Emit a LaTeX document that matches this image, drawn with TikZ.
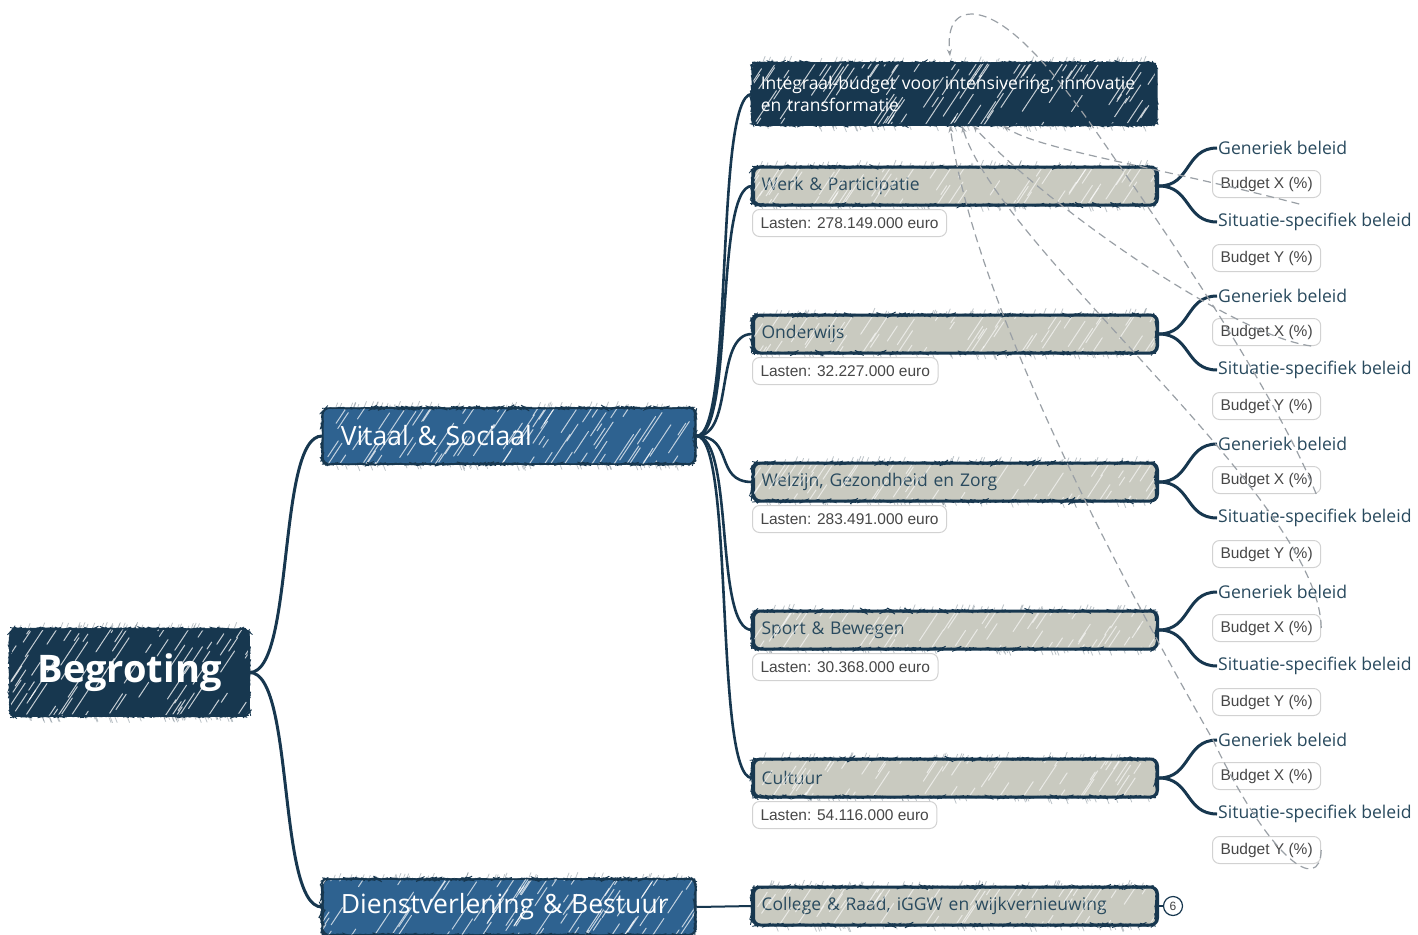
\documentclass[tikz,border=0pt]{standalone}
\usepackage{fontspec}
\setmainfont{Open Sans}
\newfontfamily\arialf{Liberation Sans}
\usetikzlibrary{arrows.meta,calc,decorations.pathmorphing}
\definecolor{navy}{HTML}{17374F}
\definecolor{midblue}{HTML}{2E6290}
\definecolor{greybox}{HTML}{C9CAC0}
\definecolor{txtdark}{HTML}{294A5E}
\definecolor{lblgrey}{HTML}{D2D2D2}
\definecolor{relgrey}{HTML}{9AA0A6}
\newcommand\hatchit[6]{%
  \begin{scope}
    \clip[rounded corners=6pt] (#1,#2) rectangle (#3,#4);
    \foreach \k in {1,...,#5}{
      \pgfmathsetmacro\hx{#1-15+rnd*(#3-#1+15)}
      \pgfmathsetmacro\hy{#2+rnd*(#4-#2+25)}
      \pgfmathsetmacro\hl{8+rnd*30}
      \draw[white,opacity=#6,line width=1pt,line cap=round] (\hx,\hy) -- ++(0.55*\hl,-0.83*\hl);
    }
  \end{scope}}
\newcommand\fuzzit[4]{% x1 y1 x2 y2 : sketchy ticks along top and bottom edges
  \begin{scope}
    \foreach \k in {1,...,40}{
      \pgfmathsetmacro\fx{#1+8+rnd*(#3-#1-16)}
      \pgfmathsetmacro\fl{2+rnd*4}
      \draw[navy!60!gray,opacity=0.35,line width=0.8pt] (\fx,#2-1) -- ++(0.4*\fl,-\fl);
      \pgfmathsetmacro\gx{#1+8+rnd*(#3-#1-16)}
      \draw[navy!60!gray,opacity=0.35,line width=0.8pt] (\gx,#4+1) -- ++(0.4*\fl,\fl);
    }
    \draw[navy,line width=0.8pt,rounded corners=6pt,decorate,decoration={random steps,segment length=2.5pt,amplitude=0.7pt}]
      (#1,#2) rectangle (#3,#4);
  \end{scope}}
\tikzset{
  darkbox/.style={draw=navy, fill=navy, rounded corners=7pt, line width=1.5pt, text=white},
  bluebox/.style={draw=navy, fill=midblue, rounded corners=7pt, line width=1.5pt, text=white,
    anchor=west, minimum width=373pt, minimum height=56pt, text width=337pt, inner xsep=18pt, align=left,
    font=\fontsize{26.5}{30}\selectfont},
  greyb/.style={draw=navy, fill=greybox, rounded corners=7pt, line width=3pt, text=txtdark,
    font=\fontsize{17.5}{20}\selectfont, anchor=west, minimum width=404pt, minimum height=38pt,
    text width=388pt, inner xsep=8pt, align=left},
  lasten/.style={draw=lblgrey, fill=white, rounded corners=7pt, line width=1pt,
    font=\arialf\fontsize{15.5}{18}\selectfont, text=black!72, anchor=west, minimum height=27pt, inner xsep=8pt},
  budg/.style={lasten},
  subl/.style={font=\fontsize{17.6}{20}\selectfont, text=txtdark, anchor=west, inner sep=1pt},
  conn/.style={draw=navy, line width=3pt},
  rel/.style={draw=relgrey, line width=1.2pt, dash pattern=on 8pt off 5pt, -{Stealth[length=7pt,width=5pt]}},
}
\begin{document}
\begin{tikzpicture}[x=1pt,y=-1pt]
\pgfmathsetseed{7}
\useasboundingbox (0,0) rectangle (1418,934);
\fill[white] (0,0) rectangle (1418,934);

% root
\node[darkbox, minimum width=239pt, minimum height=87pt, font=\bfseries\fontsize{38}{42}\selectfont] (beg) at (129.5,672.5) {Begroting};
\hatchit{10}{629}{249}{716}{85}{0.75}
\fuzzit{10}{629}{249}{716}

% level 1
\node[bluebox] (vit) at (322,436) {Vitaal \& Sociaal};
\hatchit{322}{408}{695}{464}{95}{0.7}
\fuzzit{322}{408}{695}{464}
\node[bluebox] (dv) at (322,907) {Dienstverlening \& Bestuur};
\hatchit{322}{879}{695}{935}{95}{0.7}
\fuzzit{322}{879}{695}{935}

% level 2
\node[darkbox, anchor=west, minimum width=404pt, minimum height=62pt, text width=388pt, inner xsep=8pt, align=left,
  font=\fontsize{17.5}{22}\selectfont] (int) at (752,94) {Integraal-budget voor intensivering, innovatie\\en transformatie};
\hatchit{752}{63}{1156}{125}{105}{0.75}
\fuzzit{752}{63}{1156}{125}

\node[greyb] (w1) at (752,186) {Werk \& Participatie};
\hatchit{754}{169}{1154}{203}{65}{0.6}
\fuzzit{752}{167}{1156}{205}
\node[greyb] (w2) at (752,334) {Onderwijs};
\hatchit{754}{317}{1154}{351}{65}{0.6}
\fuzzit{752}{315}{1156}{353}
\node[greyb] (w3) at (752,482) {Welzijn, Gezondheid en Zorg};
\hatchit{754}{465}{1154}{499}{65}{0.6}
\fuzzit{752}{463}{1156}{501}
\node[greyb] (w4) at (752,630) {Sport \& Bewegen};
\hatchit{754}{613}{1154}{647}{65}{0.6}
\fuzzit{752}{611}{1156}{649}
\node[greyb] (w5) at (752,778) {Cultuur};
\hatchit{754}{761}{1154}{795}{65}{0.6}
\fuzzit{752}{759}{1156}{797}
\node[greyb] (col) at (752,906) {College \& Raad, iGGW en wijkvernieuwing};
\hatchit{754}{889}{1154}{923}{65}{0.6}
\fuzzit{752}{887}{1156}{925}

% lasten labels
\node[lasten] (l1) at (752,223) {Lasten: 278.149.000 euro};
\node[lasten] (l2) at (752,371) {Lasten: 32.227.000 euro};
\node[lasten] (l3) at (752,519) {Lasten: 283.491.000 euro};
\node[lasten] (l4) at (752,667) {Lasten: 30.368.000 euro};
\node[lasten] (l5) at (752,815) {Lasten: 54.116.000 euro};

% sub labels
\foreach \i/\y in {1/148,2/296,3/444,4/592,5/740}{
  \node[subl] (g\i) at (1217,\y) {Generiek beleid};
  \node[budg] (bx\i) at (1212,\y+36) {Budget X (\%)};
  \node[subl] (s\i) at (1217,\y+74) {Situatie-specifiek beleid};
  \node[budg] (by\i) at (1212,\y+110) {Budget Y (\%)};
}

% connectors
\draw[conn] (beg.east) .. controls +(45,0) and +(-45,0) .. (vit.west);
\draw[conn] (beg.east) .. controls +(45,0) and +(-45,0) .. (dv.west);
\foreach \t in {int,w1,w2,w3,w4,w5}{
  \draw[conn, line width=2.6pt] (vit.east) .. controls +(38,0) and +(-38,0) .. (\t.west);
}
\draw[conn, line width=2pt] (dv.east) -- (col.west);
\foreach \i in {1,...,5}{
  \draw[conn] (w\i.east) .. controls +(32,0) and +(-32,0) .. (g\i.west);
  \draw[conn] (w\i.east) .. controls +(32,0) and +(-32,0) .. (s\i.west);
}
\node[circle, draw=navy, line width=1.2pt, fill=white, minimum size=19pt, inner sep=0pt,
  font=\arialf\fontsize{12}{12}\selectfont, text=black!75] (six) at (1173,906) {6};
\draw[draw=navy, line width=1.5pt] (col.east) -- (six.west);

% relationship lines
\coordinate (ta) at ([xshift=198pt]int.south west);
\coordinate (tb) at ([xshift=210pt]int.south west);
\coordinate (tc) at ([xshift=221pt]int.south west);
\coordinate (td) at ([xshift=251pt]int.south west);
\coordinate (tt) at ([xshift=198pt,yshift=6pt]int.north west);
\draw[rel] ([shift={(-22,6)}]bx1.south east) .. controls (1150,165) and (1040,150) .. (td);
\draw[rel] ([shift={(-10,0)}]bx2.south east) .. controls (1230,335) and (1040,200) .. (tc);
\draw[rel] (bx4.east) .. controls (1320,500) and (1000,250) .. (tb);
\draw[rel] (by5.east) .. controls (1320,895) and (1270,860) .. (1213,740) .. controls (1110,560) and (975,300) .. (ta);
\draw[rel] ([shift={(-5,0)}]bx3.south east) .. controls (1270,380) and (1150,210) .. (1095,130)
   .. controls (1060,80) and (1010,15) .. (972,14) .. controls (950,14) and (948,35) .. (tt);
\end{tikzpicture}
\end{document}
